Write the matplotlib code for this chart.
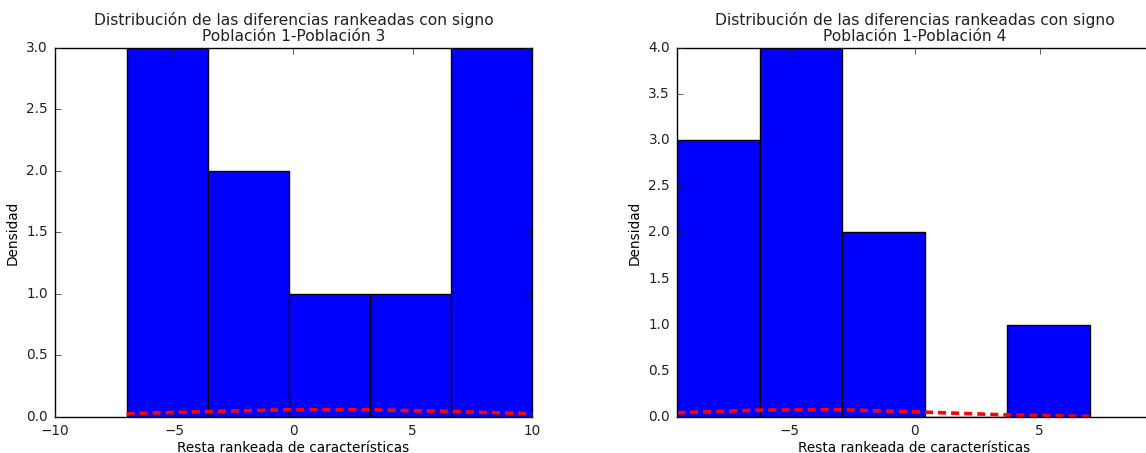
import numpy as np
import matplotlib
matplotlib.use("Agg")
import matplotlib.pyplot as plt

plt.style.use("classic")
plt.rcParams["font.family"] = ["DejaVu Sans"]
plt.rcParams["font.size"] = 9.8
plt.rcParams["text.color"] = "#222222"
plt.rcParams["xtick.color"] = "#222222"
plt.rcParams["ytick.color"] = "#222222"

# diferencias rankeadas con signo
dif_13 = [-7, -6, -4, -3, -1, 2, 5, 8, 9, 10]
dif_14 = [-9.5, -8, -7, -6, -5, -4, -3, -2, -1, 7]

# ajuste normal aproximado (mu, sigma) de cada muestra
ajuste_13 = (1.5, 6.6)
ajuste_14 = (-4.2, 4.9)

titulos = ["Distribución de las diferencias rankeadas con signo\nPoblación 1-Población 3",
           "Distribución de las diferencias rankeadas con signo\nPoblación 1-Población 4"]
xlims = [(-10, 10), (-9.5, 9.5)]
ylims = [(0, 3), (0, 4)]


def normpdf(x, mu, sigma):
    return np.exp(-0.5 * ((x - mu) / sigma) ** 2) / (sigma * np.sqrt(2 * np.pi))


fig = plt.figure(figsize=(11.46, 4.53), dpi=100, facecolor="white")
posiciones = [[0.048, 0.0795, 0.416, 0.815], [0.5908, 0.0795, 0.4145, 0.815]]

for i, (datos, (mu, sigma)) in enumerate([(dif_13, ajuste_13), (dif_14, ajuste_14)]):
    ax = fig.add_axes(posiciones[i])
    n, bins, patches = ax.hist(datos, bins=5, color="b", edgecolor="k")
    ax.plot(bins, normpdf(bins, mu, sigma), "r--", linewidth=2.6, dashes=(5.8, 3.6))
    ax.set_xlim(*xlims[i])
    ax.set_ylim(*ylims[i])
    ax.set_yticks(np.arange(0, ylims[i][1] + 0.01, 0.5))
    ax.tick_params(pad=5)
    ax.set_title(titulos[i], fontsize=11.2, linespacing=1.05)
    ax.set_xlabel("Resta rankeada de características", labelpad=2)
    ax.set_ylabel("Densidad", labelpad=5)

fig.savefig("out.png", dpi=100, facecolor="white")
